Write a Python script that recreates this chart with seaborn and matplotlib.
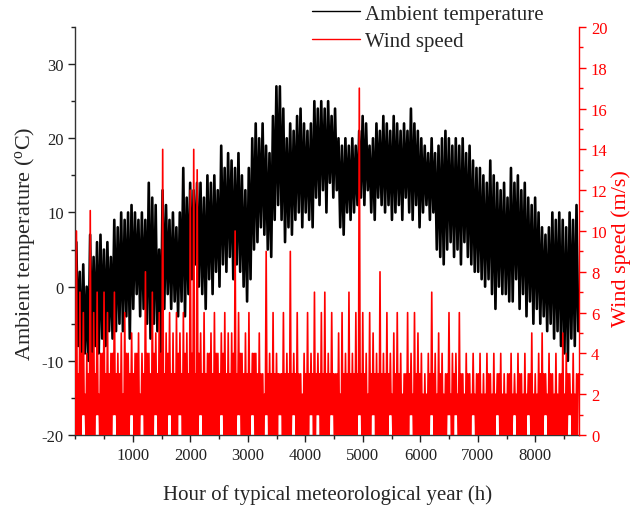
import numpy as np
import pandas as pd
import matplotlib
matplotlib.use("Agg")
import matplotlib.pyplot as plt
import seaborn as sns
from matplotlib.ticker import MultipleLocator, FixedLocator

# ---------------- data (60-hour blocks) -------------
block_hours = 60
temp_high = [6, 2, 3, 0, 7, 4, 6, 7, 5, 6,
             4, 9, 8, 10, 9, 10, 11, 10, 9, 10,
             9, 14, 12, 11, 5, 13, 11, 9, 10, 8,
             10, 16, 12, 14, 13, 14, 14, 12, 15, 14,
             15, 13, 19, 16, 18, 17, 16, 18, 15, 13,
             16, 20, 22, 20, 22, 19, 18, 23, 27, 27,
             24, 20, 22, 21, 23, 24, 22, 21, 22, 25,
             24, 25, 24, 25, 23, 24, 20, 19, 20, 19,
             20, 19, 21, 23, 22, 19, 20, 22, 21, 23,
             22, 21, 23, 22, 21, 22, 21, 24, 22, 21,
             20, 19, 18, 20, 18, 19, 20, 21, 20, 19,
             20, 19, 20, 18, 19, 17, 16, 16, 15, 14,
             17, 15, 14, 13, 14, 12, 16, 14, 15, 13,
             14, 12, 11, 12, 10, 8, 7, 8, 10, 9,
             10, 9, 8, 10, 9, 11]
temp_low = [-8, -11, -9, -10, -9, -8, -9, -7, -8, -6,
            -7, -6, -5, -6, -4, -7, -3, -1, -4, -3,
            -5, -7, -5, -6, -9, -3, -1, -3, -2, -4,
            -2, -4, -1, 1, 3, 0, -1, -3, 1, -1,
            2, 0, 3, 2, 4, 1, 3, 2, 0, -2,
            1, 5, 6, 8, 7, 5, 4, 9, 11, 9,
            6, 8, 7, 9, 10, 8, 10, 9, 8, 12,
            11, 13, 10, 14, 12, 13, 8, 7, 10, 9,
            10, 11, 12, 11, 13, 10, 9, 12, 11, 10,
            11, 9, 10, 11, 9, 12, 10, 9, 11, 8,
            10, 11, 9, 10, 5, 4, 3, 5, 6, 4,
            5, 3, 6, 4, 3, 2, 2, 1, 0, 1,
            -1, -3, 0, -1, -1, -2, -2, 1, -3, -1,
            -4, -2, -5, -3, -5, -4, -6, -5, -7, -6,
            -8, -9, -10, -7, -8, -6]
wind_peak = [10, 7, 6, 4, 11, 6, 7, 4, 7, 6,
             4, 7, 4, 5, 6, 4, 5, 4, 5, 4,
             8, 4, 7, 5, 6, 14, 5, 6, 5, 6,
             5, 6, 5, 12, 14, 13, 5, 6, 4, 5,
             6, 4, 5, 6, 5, 5, 10, 6, 4, 5,
             6, 4, 4, 5, 3, 9, 4, 6, 4, 3,
             6, 4, 9, 4, 6, 3, 4, 6, 4, 7,
             4, 6, 7, 4, 6, 3, 5, 6, 4, 7,
             4, 6, 17, 6, 4, 6, 5, 4, 8, 4,
             6, 4, 5, 6, 4, 3, 6, 4, 6, 5,
             4, 3, 4, 7, 4, 5, 4, 3, 6, 4,
             4, 6, 3, 4, 3, 4, 3, 4, 3, 4,
             3, 4, 3, 4, 3, 3, 4, 3, 4, 3,
             4, 3, 5, 3, 4, 5, 3, 4, 3, 4,
             3, 5, 4, 3, 4, 3]
wind_mid = [3, 4, 2, 3, 4, 3, 2, 4, 3, 3,
            4, 3, 3, 2, 4, 3, 3, 4, 2, 3,
            4, 3, 4, 3, 4, 3, 4, 3, 3, 4,
            3, 4, 3, 4, 3, 4, 3, 3, 4, 3,
            4, 3, 4, 3, 3, 4, 3, 4, 3, 3,
            3, 4, 3, 3, 2, 3, 3, 3, 3, 3,
            3, 3, 3, 3, 3, 2, 3, 3, 3, 3,
            3, 3, 3, 3, 3, 3, 2, 3, 3, 3,
            3, 3, 3, 3, 2, 3, 3, 3, 3, 3,
            3, 2, 3, 3, 2, 3, 3, 2, 3, 3,
            2, 2, 3, 3, 2, 3, 2, 3, 2, 3,
            2, 3, 2, 3, 2, 2, 3, 2, 2, 3,
            2, 2, 3, 2, 2, 3, 2, 2, 3, 2,
            2, 3, 2, 2, 3, 3, 2, 3, 2, 2,
            3, 2, 3, 2, 2, 3]
wind_low = [0, 0, 1, 0, 0, 0, 1, 0, 0, 0,
            0, 1, 0, 0, 0, 0, 1, 0, 0, 1,
            0, 0, 0, 1, 0, 0, 0, 1, 0, 0,
            1, 0, 0, 0, 0, 0, 1, 0, 0, 0,
            0, 0, 1, 0, 0, 0, 0, 1, 0, 0,
            0, 1, 0, 0, 0, 1, 0, 0, 0, 1,
            0, 0, 0, 1, 0, 0, 0, 0, 1, 0,
            1, 0, 0, 0, 1, 0, 0, 0, 0, 0,
            0, 0, 1, 0, 0, 0, 1, 0, 0, 0,
            0, 1, 0, 0, 0, 0, 0, 1, 0, 0,
            0, 0, 0, 1, 0, 0, 0, 0, 1, 0,
            1, 0, 0, 0, 0, 1, 0, 0, 0, 0,
            0, 0, 1, 0, 0, 0, 0, 1, 0, 0,
            0, 1, 0, 0, 0, 0, 1, 0, 0, 0,
            0, 0, 0, 1, 0, 0]

x_major = [1000, 2000, 3000, 4000, 5000, 6000, 7000, 8000]
temp_ticks = [-20, -10, 0, 10, 20, 30]
wind_ticks = [0, 2, 4, 6, 8, 10, 12, 14, 16, 18, 20]

# ---------------- build series ----------------
starts = np.arange(len(temp_high)) * block_hours
t_x = np.column_stack([starts + 15, starts + 45]).ravel()
t_y = np.column_stack([temp_high, temp_low]).ravel()
temp_df = pd.DataFrame({"hour": t_x, "temp": t_y})

w_x = np.column_stack([starts + 2, starts + 17, starts + 32, starts + 47]).ravel()
w_y = np.column_stack([wind_low, wind_peak, wind_low, wind_mid]).ravel()
wind_df = pd.DataFrame({"hour": w_x, "wind": w_y})

# ---------------- style ----------------
sns.set_style("ticks")
plt.rcParams["font.family"] = ["Liberation Serif", "DejaVu Serif"]
plt.rcParams["mathtext.fontset"] = "custom"
plt.rcParams["mathtext.rm"] = "Liberation Serif"
plt.rcParams["mathtext.it"] = "Liberation Serif:italic"
plt.rcParams["axes.unicode_minus"] = False

fig = plt.figure(figsize=(6.3, 5.06), dpi=100)
ax = fig.add_axes([0.1198, 0.1383, 0.7994, 0.8064])
ax2 = ax.twinx()

sns.lineplot(data=temp_df, x="hour", y="temp", ax=ax, color="black",
             linewidth=1.9, estimator=None, sort=False, label="Ambient temperature",
             legend=False)
sns.lineplot(data=wind_df, x="hour", y="wind", ax=ax2, color="red",
             linewidth=1.2, estimator=None, sort=False, label="Wind speed",
             legend=False)

ax.set_xlim(0, 8760)
ax.set_ylim(-20, 35)
ax2.set_ylim(0, 20)

ax.xaxis.set_major_locator(FixedLocator(x_major))
ax.xaxis.set_minor_locator(MultipleLocator(500))
ax.yaxis.set_major_locator(FixedLocator(temp_ticks))
ax.yaxis.set_minor_locator(MultipleLocator(5))
ax2.yaxis.set_major_locator(FixedLocator(wind_ticks))
ax2.yaxis.set_minor_locator(MultipleLocator(1))

for a in (ax, ax2):
    a.spines["top"].set_visible(False)
ax.spines["right"].set_visible(False)
ax2.spines["left"].set_visible(False)
ax2.spines["bottom"].set_visible(False)
ax2.spines["right"].set_color("red")
for s in ("left", "bottom"):
    ax.spines[s].set_color("#333333")
    ax.spines[s].set_linewidth(1.0)
ax2.spines["right"].set_linewidth(1.0)

ax.tick_params(axis="both", which="major", direction="out", length=5, width=1,
               labelsize=12, colors="#222222")
ax.tick_params(axis="both", which="minor", direction="out", length=3, width=1,
               colors="#222222")
ax2.tick_params(axis="y", which="major", direction="out", length=5, width=1,
                labelsize=12, colors="red")
ax2.tick_params(axis="y", which="minor", direction="out", length=3, width=1,
                colors="red")

ax.set_xlabel("Hour of typical meteorological year (h)", fontsize=15)
ax.xaxis.set_label_coords(0.5, -0.12)
ax.set_ylabel(r"Ambient temperature ($^{\rm o}$C)", fontsize=16)
ax.yaxis.set_label_coords(-0.076, 0.47)
ax2.set_ylabel("Wind speed (m/s)", fontsize=16, color="red")
ax2.yaxis.set_label_coords(1.063, 0.46)

h1, l1 = ax.get_legend_handles_labels()
h2, l2 = ax2.get_legend_handles_labels()
leg = fig.legend(h1 + h2, l1 + l2, loc="upper left",
                 bbox_to_anchor=(312 / 630, 1 - 5 / 506),
                 frameon=False, fontsize=15, handlelength=2.3, handletextpad=0.25,
                 labelspacing=0.4, borderpad=0, borderaxespad=0)
for line in leg.get_lines():
    line.set_linewidth(1.0)

fig.savefig("out.png", dpi=100)
